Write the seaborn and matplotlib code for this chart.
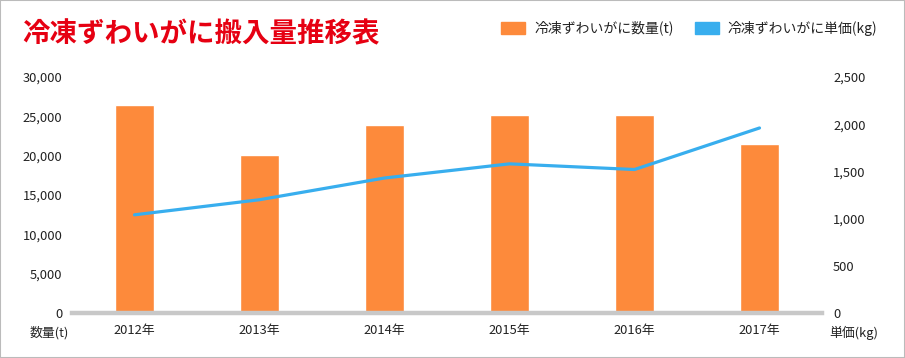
import matplotlib
matplotlib.use("Agg")
import matplotlib.pyplot as plt
import matplotlib.ticker as mticker
from matplotlib.patches import Patch, Rectangle
import numpy as np
import pandas as pd
import seaborn as sns

years = ["2012年", "2013年", "2014年", "2015年", "2016年", "2017年"]
quantity_t = [26500, 20100, 23900, 25200, 25200, 21500]
unit_price_kg = [1040, 1200, 1430, 1580, 1520, 1960]

title = "冷凍ずわいがに搬入量推移表"
qty_label = "冷凍ずわいがに数量(t)"
price_label = "冷凍ずわいがに単価(kg)"

ORANGE = "#fd8a3b"
BLUE = "#38aeee"
RED = "#e60012"
GRAY = "#c8c8c8"
TEXT = "#222222"

sns.set_style("white")
plt.rcParams["font.family"] = ["Noto Sans CJK JP", "DejaVu Sans"]

df = pd.DataFrame({"year": years, "qty": quantity_t, "price": unit_price_kg})
df["pos"] = np.arange(len(df))

fig = plt.figure(figsize=(9.05, 3.58), dpi=100)
ax = fig.add_axes([72 / 905, 1 - 313 / 358, 750 / 905, 236 / 358])

sns.barplot(data=df, x="year", y="qty", color=ORANGE, width=0.31,
            saturation=1, ax=ax)
ax.set_ylim(0, 30000)
ax.set_xlim(-0.5, len(df) - 0.5)
ax.yaxis.set_major_locator(mticker.MultipleLocator(5000))
ax.yaxis.set_major_formatter(mticker.FuncFormatter(lambda v, p: f"{int(v):,}"))

ax2 = ax.twinx()
sns.lineplot(data=df, x="pos", y="price", color=BLUE, linewidth=2.3, ax=ax2)
ax2.set_ylim(0, 2500)
ax2.yaxis.set_major_locator(mticker.MultipleLocator(500))
ax2.yaxis.set_major_formatter(mticker.FuncFormatter(lambda v, p: f"{int(v):,}"))

for a in (ax, ax2):
    a.set_xlabel("")
    a.set_ylabel("")
    for s in a.spines.values():
        s.set_visible(False)
    a.tick_params(length=0, labelsize=9.3, colors=TEXT)
ax.tick_params(axis="y", pad=7)
ax.tick_params(axis="x", pad=8)
ax2.tick_params(axis="y", pad=8)
ax.spines["bottom"].set_visible(True)
ax.spines["bottom"].set_color(GRAY)
ax.spines["bottom"].set_linewidth(3.2)

fig.text(49 / 905, 1 - 333 / 358, "数量(t)", ha="center", va="center",
         fontsize=9.3, color=TEXT)
fig.text(854 / 905, 1 - 333 / 358, "単価(kg)", ha="center", va="center",
         fontsize=9.3, color=TEXT)

fig.text(22 / 905, 1 - 34 / 358, title, ha="left", va="center",
         fontsize=19.8, fontweight="bold", color=RED)

handles = [Patch(color=ORANGE, label=qty_label), Patch(color=BLUE, label=price_label)]
fig.legend(handles=handles, loc="center right", bbox_to_anchor=(890 / 905, 1 - 28 / 358),
           ncol=2, frameon=False, fontsize=10, handlelength=1.75, handleheight=0.95,
           handletextpad=0.65, columnspacing=1.5, labelcolor=TEXT)

fig.patches.append(Rectangle((0, 0), 1, 1, transform=fig.transFigure, fill=False,
                             edgecolor="#bbbbbb", linewidth=1.5))

fig.savefig("out.png", dpi=100)
plt.close(fig)
